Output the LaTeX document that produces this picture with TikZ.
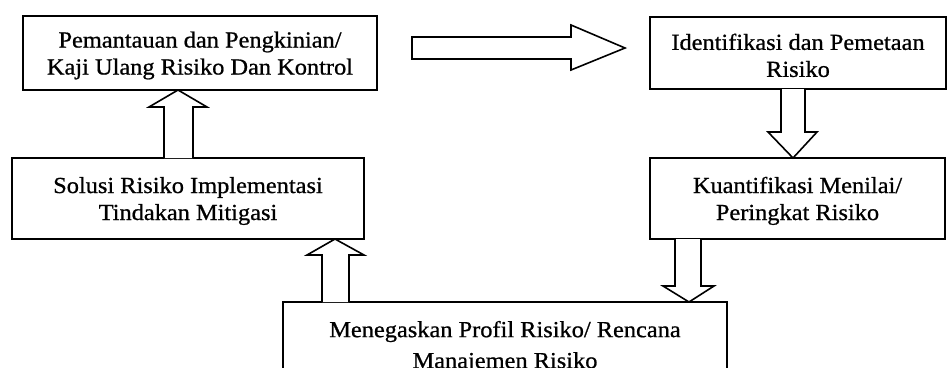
\documentclass[tikz,border=0pt]{standalone}
\usepackage{fontspec}
\setmainfont{Liberation Serif}[FakeStretch=1.06,FakeBold=0.8]
\usetikzlibrary{calc}
\newcommand{\topstrut}{\rule{0pt}{21pt}}
\begin{document}
\begin{tikzpicture}[x=1pt,y=-1pt,line width=1.6pt,
  box/.style={draw, align=center, inner sep=0pt, outer sep=0pt, font=\fontsize{23}{27}\selectfont},
  blk/.style={draw, fill=white, line width=1.6pt, line join=miter}]
\useasboundingbox (0,0) rectangle (947,367);
\clip (0,0) rectangle (947,367);
\node[box, minimum width=354, minimum height=74] (pem) at (200,53) {\topstrut Pemantauan dan Pengkinian/\\Kaji Ulang Risiko Dan Kontrol};
\node[box, minimum width=296, minimum height=72] (ide) at (798,53) {\topstrut Identifikasi dan Pemetaan\\Risiko};
\node[box, minimum width=352, minimum height=81] (sol) at (188,198.5) {\topstrut Solusi Risiko Implementasi\\Tindakan Mitigasi};
\node[box, minimum width=295, minimum height=81] (kua) at (797.5,198.5) {\topstrut Kuantifikasi Menilai/\\Peringkat Risiko};
\node[box, minimum width=444, minimum height=90] (men) at (505,347) {\rule{0pt}{16pt}Menegaskan Profil Risiko/ Rencana\\[4pt]Manajemen Risiko};
% block arrows
\draw[blk] (164,0 |- sol.north) -- (164,107) -- (149,107) -- (178,0 |- pem.south) -- (207,107) -- (193,107) -- (193,0 |- sol.north);
\draw[blk] (412,37) -- (571,37) -- (571,25) -- (625,48) -- (571,70) -- (571,59) -- (412,59) -- cycle;
\draw[blk] (781,0 |- ide.south) -- (781,132) -- (768,132) -- (793,0 |- kua.north) -- (817,132) -- (805,132) -- (805,0 |- ide.south);
\draw[blk] (675,0 |- kua.south) -- (675,286) -- (663,286) -- (689,0 |- men.north) -- (714,286) -- (701,286) -- (701,0 |- kua.south);
\draw[blk] (322,0 |- men.north) -- (322,255) -- (307,255) -- (335,0 |- sol.south) -- (364,255) -- (349,255) -- (349,0 |- men.north);
\end{tikzpicture}
\end{document}
